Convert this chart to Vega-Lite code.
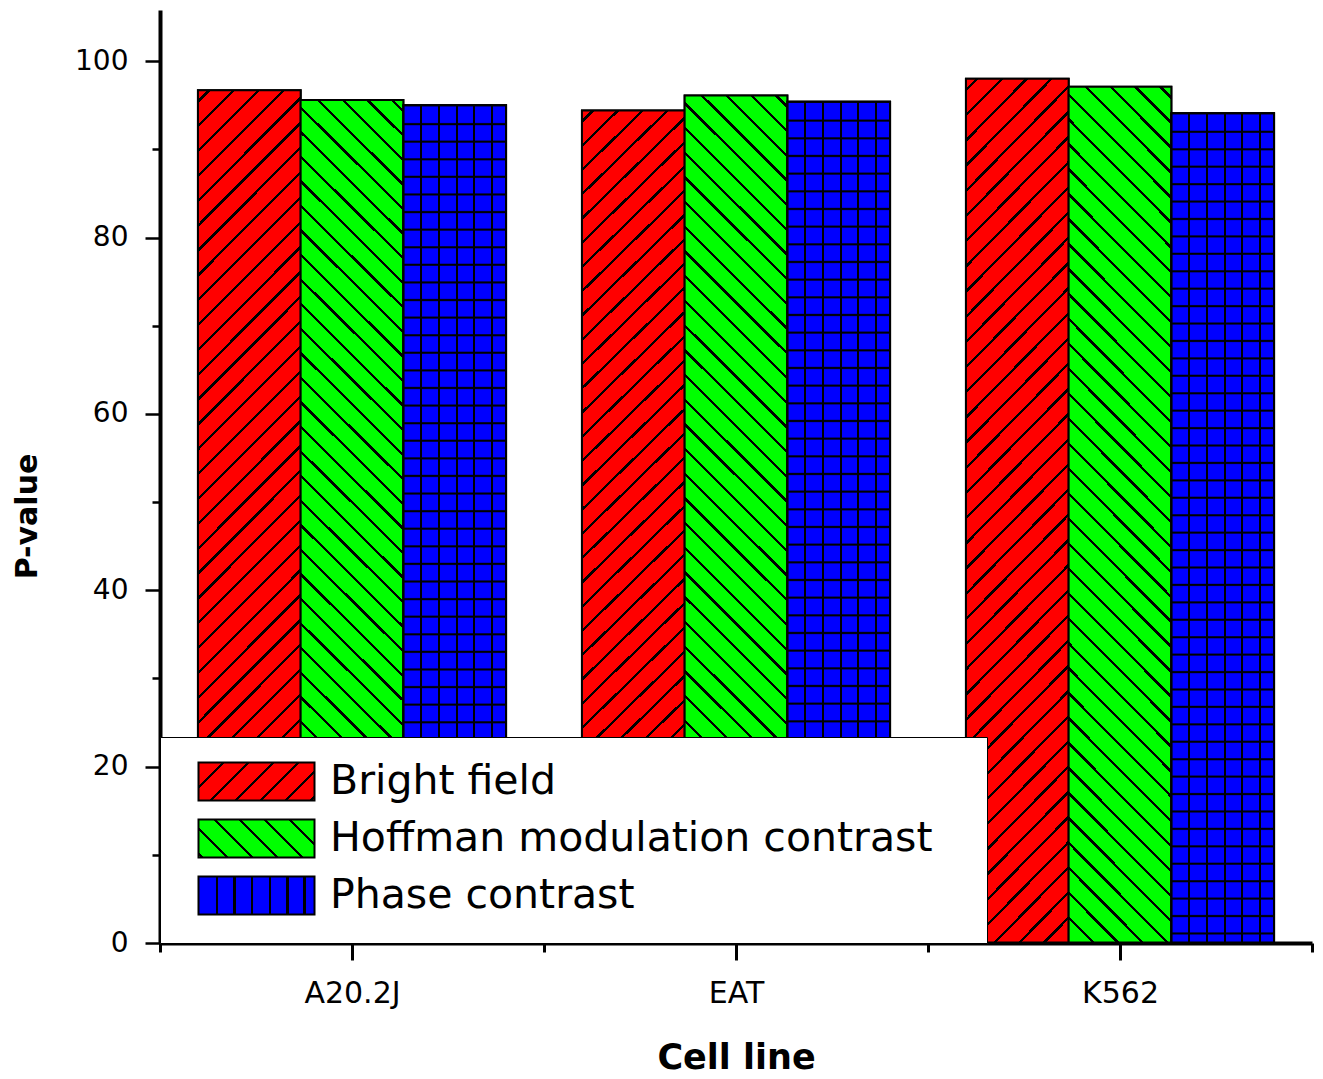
{
  "$schema": "https://vega.github.io/schema/vega-lite/v6.json",
  "autosize": {"type": "none"},
  "padding": {"left": 160, "top": 10, "right": 11, "bottom": 136},
  "width": 1152,
  "height": 933,
  "background": "white",
  "config": {"view": {"stroke": null}, "axis": {"grid": false}},
  "data": {
    "values": [
      {"cell": "A20.2J", "method": "Bright field", "value": 96.7},
      {"cell": "A20.2J", "method": "Hoffman modulation contrast", "value": 95.6},
      {"cell": "A20.2J", "method": "Phase contrast", "value": 95.0},
      {"cell": "EAT", "method": "Bright field", "value": 94.4},
      {"cell": "EAT", "method": "Hoffman modulation contrast", "value": 96.1},
      {"cell": "EAT", "method": "Phase contrast", "value": 95.4},
      {"cell": "K562", "method": "Bright field", "value": 98.0},
      {"cell": "K562", "method": "Hoffman modulation contrast", "value": 97.1},
      {"cell": "K562", "method": "Phase contrast", "value": 94.1}
    ]
  },
  "encoding": {
    "x": {
      "field": "cell", "type": "nominal",
      "scale": {"domain": ["A20.2J", "EAT", "K562"], "paddingInner": 0, "paddingOuter": 0},
      "axis": {
        "orient": "bottom", "tickBand": "extent", "tickSize": 9, "tickWidth": 3, "tickColor": "black",
        "domainWidth": 4, "domainColor": "black", "labelFont": "DejaVu Sans", "labelFontSize": 30,
        "labelColor": "black", "labelPadding": 26, "labelAngle": 0, "title": "Cell line",
        "titleFont": "DejaVu Sans", "titleFontSize": 35, "titleFontWeight": "bold", "titleColor": "black",
        "titlePadding": 32, "zindex": 1
      }
    },
    "xOffset": {
      "field": "method", "type": "nominal",
      "scale": {"domain": ["Bright field", "Hoffman modulation contrast", "Phase contrast"], "paddingInner": 0, "paddingOuter": 0.3695}
    },
    "y": {
      "field": "value", "type": "quantitative",
      "scale": {"domain": [0, 105.8], "nice": false, "zero": true},
      "axis": {
        "orient": "left", "values": [0, 20, 40, 60, 80, 100], "tickSize": 15, "tickWidth": 2.5, "tickColor": "black",
        "domainWidth": 4, "domainColor": "black", "labelFont": "DejaVu Sans", "labelFontSize": 28,
        "labelColor": "black", "labelPadding": 17, "title": "P-value", "titleFont": "DejaVu Sans",
        "titleFontSize": 30, "titleFontWeight": "bold", "titleColor": "black", "titlePadding": 32, "titleY": 506, "zindex": 1
      }
    }
  },
  "resolve": {"axis": {"x": "independent", "y": "independent"}},
  "layer": [
    {
      "mark": {"type": "bar", "stroke": "black", "strokeWidth": 2},
      "encoding": {
        "fill": {
          "field": "method", "type": "nominal",
          "scale": {
            "domain": ["Bright field", "Hoffman modulation contrast", "Phase contrast"],
            "range": [
              {"expr": "{gradient: 'linear', x1: 0, y1: 0, x2: 1.199, y2: 0.3928, stops: [{offset: 0.151, color: '#f00'}, {offset: 0.151, color: '#000'}, {offset: 0.173, color: '#000'}, {offset: 0.173, color: '#f00'}, {offset: 0.314, color: '#f00'}, {offset: 0.314, color: '#000'}, {offset: 0.336, color: '#000'}, {offset: 0.336, color: '#f00'}, {offset: 0.476, color: '#f00'}, {offset: 0.476, color: '#000'}, {offset: 0.498, color: '#000'}, {offset: 0.498, color: '#f00'}, {offset: 0.638, color: '#f00'}, {offset: 0.638, color: '#000'}, {offset: 0.66, color: '#000'}, {offset: 0.66, color: '#f00'}, {offset: 0.8, color: '#f00'}, {offset: 0.8, color: '#000'}, {offset: 0.822, color: '#000'}, {offset: 0.822, color: '#f00'}, {offset: 0.963, color: '#f00'}, {offset: 0.963, color: '#000'}, {offset: 0.985, color: '#000'}, {offset: 0.985, color: '#f00'}]}"},
              {"expr": "{gradient: 'linear', x1: 1, y1: 0, x2: -0.199, y2: 0.3928, stops: [{offset: 0.151, color: '#0f0'}, {offset: 0.151, color: '#000'}, {offset: 0.173, color: '#000'}, {offset: 0.173, color: '#0f0'}, {offset: 0.314, color: '#0f0'}, {offset: 0.314, color: '#000'}, {offset: 0.336, color: '#000'}, {offset: 0.336, color: '#0f0'}, {offset: 0.476, color: '#0f0'}, {offset: 0.476, color: '#000'}, {offset: 0.498, color: '#000'}, {offset: 0.498, color: '#0f0'}, {offset: 0.638, color: '#0f0'}, {offset: 0.638, color: '#000'}, {offset: 0.66, color: '#000'}, {offset: 0.66, color: '#0f0'}, {offset: 0.8, color: '#0f0'}, {offset: 0.8, color: '#000'}, {offset: 0.822, color: '#000'}, {offset: 0.822, color: '#0f0'}, {offset: 0.963, color: '#0f0'}, {offset: 0.963, color: '#000'}, {offset: 0.985, color: '#000'}, {offset: 0.985, color: '#0f0'}]}"},
              {"expr": "{gradient: 'linear', x1: 0, y1: 0, x2: 1, y2: 0, stops: [{offset: 0.15, color: '#00f'}, {offset: 0.15, color: '#000'}, {offset: 0.172, color: '#000'}, {offset: 0.172, color: '#00f'}, {offset: 0.3, color: '#00f'}, {offset: 0.3, color: '#000'}, {offset: 0.322, color: '#000'}, {offset: 0.322, color: '#00f'}, {offset: 0.452, color: '#00f'}, {offset: 0.452, color: '#000'}, {offset: 0.474, color: '#000'}, {offset: 0.474, color: '#00f'}, {offset: 0.604, color: '#00f'}, {offset: 0.604, color: '#000'}, {offset: 0.626, color: '#000'}, {offset: 0.626, color: '#00f'}, {offset: 0.754, color: '#00f'}, {offset: 0.754, color: '#000'}, {offset: 0.776, color: '#000'}, {offset: 0.776, color: '#00f'}, {offset: 0.905, color: '#00f'}, {offset: 0.905, color: '#000'}, {offset: 0.927, color: '#000'}, {offset: 0.927, color: '#00f'}]}"}
            ]
          },
          "legend": {
            "orient": "bottom-left", "offset": 0, "title": null, "padding": 24,
            "fillColor": "white", "strokeColor": "black",
            "symbolType": "M-3.053,-1H3.053V1H-3.053Z", "symbolSize": 1444,
            "symbolStrokeColor": "black", "symbolStrokeWidth": 2, "symbolOffset": 52,
            "labelFont": "DejaVu Sans", "labelFontSize": 41, "labelColor": "black",
            "labelOffset": 53, "labelLimit": 2000, "rowPadding": 10,
            "labelExpr": "datum.label + '\u2800'",
            "zindex": 2
          }
        }
      }
    },
    {
      "transform": [{"filter": "datum.method === 'Bright field'"}],
      "mark": {"type": "bar", "stroke": "black", "strokeWidth": 2,
        "fill": {"gradient": "linear", "x1": 0, "y1": 0, "x2": 0.1335, "y2": 1.1047, "stops": [
          {"offset": 0.01, "color": "#f00"}, {"offset": 0.01, "color": "#000"}, {"offset": 0.0135, "color": "#000"}, {"offset": 0.0135, "color": "#f00"},
          {"offset": 0.036, "color": "#f00"}, {"offset": 0.036, "color": "#000"}, {"offset": 0.0395, "color": "#000"}, {"offset": 0.0395, "color": "#f00"},
          {"offset": 0.062, "color": "#f00"}, {"offset": 0.062, "color": "#000"}, {"offset": 0.0655, "color": "#000"}, {"offset": 0.0655, "color": "#f00"},
          {"offset": 0.088, "color": "#f00"}, {"offset": 0.088, "color": "#000"}, {"offset": 0.0915, "color": "#000"}, {"offset": 0.0915, "color": "#f00"},
          {"offset": 0.114, "color": "#f00"}, {"offset": 0.114, "color": "#000"}, {"offset": 0.1175, "color": "#000"}, {"offset": 0.1175, "color": "#f00"},
          {"offset": 0.14, "color": "#f00"}, {"offset": 0.14, "color": "#000"}, {"offset": 0.1435, "color": "#000"}, {"offset": 0.1435, "color": "#f00"},
          {"offset": 0.166, "color": "#f00"}, {"offset": 0.166, "color": "#000"}, {"offset": 0.1695, "color": "#000"}, {"offset": 0.1695, "color": "#f00"},
          {"offset": 0.192, "color": "#f00"}, {"offset": 0.192, "color": "#000"}, {"offset": 0.1955, "color": "#000"}, {"offset": 0.1955, "color": "#f00"},
          {"offset": 0.218, "color": "#f00"}, {"offset": 0.218, "color": "#000"}, {"offset": 0.2215, "color": "#000"}, {"offset": 0.2215, "color": "#f00"},
          {"offset": 0.244, "color": "#f00"}, {"offset": 0.244, "color": "#000"}, {"offset": 0.2475, "color": "#000"}, {"offset": 0.2475, "color": "#f00"},
          {"offset": 0.27, "color": "#f00"}, {"offset": 0.27, "color": "#000"}, {"offset": 0.2735, "color": "#000"}, {"offset": 0.2735, "color": "#f00"},
          {"offset": 0.296, "color": "#f00"}, {"offset": 0.296, "color": "#000"}, {"offset": 0.2995, "color": "#000"}, {"offset": 0.2995, "color": "#f00"},
          {"offset": 0.322, "color": "#f00"}, {"offset": 0.322, "color": "#000"}, {"offset": 0.3255, "color": "#000"}, {"offset": 0.3255, "color": "#f00"},
          {"offset": 0.348, "color": "#f00"}, {"offset": 0.348, "color": "#000"}, {"offset": 0.3515, "color": "#000"}, {"offset": 0.3515, "color": "#f00"},
          {"offset": 0.374, "color": "#f00"}, {"offset": 0.374, "color": "#000"}, {"offset": 0.3775, "color": "#000"}, {"offset": 0.3775, "color": "#f00"},
          {"offset": 0.4, "color": "#f00"}, {"offset": 0.4, "color": "#000"}, {"offset": 0.4035, "color": "#000"}, {"offset": 0.4035, "color": "#f00"},
          {"offset": 0.426, "color": "#f00"}, {"offset": 0.426, "color": "#000"}, {"offset": 0.4295, "color": "#000"}, {"offset": 0.4295, "color": "#f00"},
          {"offset": 0.452, "color": "#f00"}, {"offset": 0.452, "color": "#000"}, {"offset": 0.4555, "color": "#000"}, {"offset": 0.4555, "color": "#f00"},
          {"offset": 0.478, "color": "#f00"}, {"offset": 0.478, "color": "#000"}, {"offset": 0.4815, "color": "#000"}, {"offset": 0.4815, "color": "#f00"},
          {"offset": 0.504, "color": "#f00"}, {"offset": 0.504, "color": "#000"}, {"offset": 0.5075, "color": "#000"}, {"offset": 0.5075, "color": "#f00"},
          {"offset": 0.53, "color": "#f00"}, {"offset": 0.53, "color": "#000"}, {"offset": 0.5335, "color": "#000"}, {"offset": 0.5335, "color": "#f00"},
          {"offset": 0.556, "color": "#f00"}, {"offset": 0.556, "color": "#000"}, {"offset": 0.5595, "color": "#000"}, {"offset": 0.5595, "color": "#f00"},
          {"offset": 0.582, "color": "#f00"}, {"offset": 0.582, "color": "#000"}, {"offset": 0.5855, "color": "#000"}, {"offset": 0.5855, "color": "#f00"},
          {"offset": 0.608, "color": "#f00"}, {"offset": 0.608, "color": "#000"}, {"offset": 0.6115, "color": "#000"}, {"offset": 0.6115, "color": "#f00"},
          {"offset": 0.634, "color": "#f00"}, {"offset": 0.634, "color": "#000"}, {"offset": 0.6375, "color": "#000"}, {"offset": 0.6375, "color": "#f00"},
          {"offset": 0.66, "color": "#f00"}, {"offset": 0.66, "color": "#000"}, {"offset": 0.6635, "color": "#000"}, {"offset": 0.6635, "color": "#f00"},
          {"offset": 0.686, "color": "#f00"}, {"offset": 0.686, "color": "#000"}, {"offset": 0.6895, "color": "#000"}, {"offset": 0.6895, "color": "#f00"},
          {"offset": 0.712, "color": "#f00"}, {"offset": 0.712, "color": "#000"}, {"offset": 0.7155, "color": "#000"}, {"offset": 0.7155, "color": "#f00"},
          {"offset": 0.738, "color": "#f00"}, {"offset": 0.738, "color": "#000"}, {"offset": 0.7415, "color": "#000"}, {"offset": 0.7415, "color": "#f00"},
          {"offset": 0.764, "color": "#f00"}, {"offset": 0.764, "color": "#000"}, {"offset": 0.7675, "color": "#000"}, {"offset": 0.7675, "color": "#f00"},
          {"offset": 0.79, "color": "#f00"}, {"offset": 0.79, "color": "#000"}, {"offset": 0.7935, "color": "#000"}, {"offset": 0.7935, "color": "#f00"},
          {"offset": 0.816, "color": "#f00"}, {"offset": 0.816, "color": "#000"}, {"offset": 0.8195, "color": "#000"}, {"offset": 0.8195, "color": "#f00"},
          {"offset": 0.842, "color": "#f00"}, {"offset": 0.842, "color": "#000"}, {"offset": 0.8455, "color": "#000"}, {"offset": 0.8455, "color": "#f00"},
          {"offset": 0.868, "color": "#f00"}, {"offset": 0.868, "color": "#000"}, {"offset": 0.8715, "color": "#000"}, {"offset": 0.8715, "color": "#f00"},
          {"offset": 0.894, "color": "#f00"}, {"offset": 0.894, "color": "#000"}, {"offset": 0.8975, "color": "#000"}, {"offset": 0.8975, "color": "#f00"},
          {"offset": 0.92, "color": "#f00"}, {"offset": 0.92, "color": "#000"}, {"offset": 0.9235, "color": "#000"}, {"offset": 0.9235, "color": "#f00"},
          {"offset": 0.946, "color": "#f00"}, {"offset": 0.946, "color": "#000"}, {"offset": 0.9495, "color": "#000"}, {"offset": 0.9495, "color": "#f00"},
          {"offset": 0.972, "color": "#f00"}, {"offset": 0.972, "color": "#000"}, {"offset": 0.9755, "color": "#000"}, {"offset": 0.9755, "color": "#f00"}
        ]}
      },
      "encoding": {
        "x": {
          "field": "cell", "type": "nominal",
          "scale": {"domain": ["A20.2J", "EAT", "K562"], "paddingInner": 0, "paddingOuter": 0},
          "axis": {"orient": "bottom", "labels": false, "domain": false, "title": null, "tickSize": 17, "tickWidth": 3, "tickColor": "black", "zindex": 1}
        },
        "y": {
          "field": "value", "type": "quantitative",
          "scale": {"domain": [0, 105.8], "nice": false, "zero": true},
          "axis": {"orient": "left", "values": [10, 30, 50, 70, 90], "labels": false, "domain": false, "title": null, "tickSize": 8, "tickWidth": 2.5, "tickColor": "black", "zindex": 1}
        }
      }
    },
    {
      "transform": [{"filter": "datum.method === 'Hoffman modulation contrast'"}],
      "mark": {"type": "bar", "stroke": "black", "strokeWidth": 2,
        "fill": {"gradient": "linear", "x1": 1, "y1": 0, "x2": 0.8665, "y2": 1.1047, "stops": [
          {"offset": 0.01, "color": "#0f0"}, {"offset": 0.01, "color": "#000"}, {"offset": 0.0135, "color": "#000"}, {"offset": 0.0135, "color": "#0f0"},
          {"offset": 0.036, "color": "#0f0"}, {"offset": 0.036, "color": "#000"}, {"offset": 0.0395, "color": "#000"}, {"offset": 0.0395, "color": "#0f0"},
          {"offset": 0.062, "color": "#0f0"}, {"offset": 0.062, "color": "#000"}, {"offset": 0.0655, "color": "#000"}, {"offset": 0.0655, "color": "#0f0"},
          {"offset": 0.088, "color": "#0f0"}, {"offset": 0.088, "color": "#000"}, {"offset": 0.0915, "color": "#000"}, {"offset": 0.0915, "color": "#0f0"},
          {"offset": 0.114, "color": "#0f0"}, {"offset": 0.114, "color": "#000"}, {"offset": 0.1175, "color": "#000"}, {"offset": 0.1175, "color": "#0f0"},
          {"offset": 0.14, "color": "#0f0"}, {"offset": 0.14, "color": "#000"}, {"offset": 0.1435, "color": "#000"}, {"offset": 0.1435, "color": "#0f0"},
          {"offset": 0.166, "color": "#0f0"}, {"offset": 0.166, "color": "#000"}, {"offset": 0.1695, "color": "#000"}, {"offset": 0.1695, "color": "#0f0"},
          {"offset": 0.192, "color": "#0f0"}, {"offset": 0.192, "color": "#000"}, {"offset": 0.1955, "color": "#000"}, {"offset": 0.1955, "color": "#0f0"},
          {"offset": 0.218, "color": "#0f0"}, {"offset": 0.218, "color": "#000"}, {"offset": 0.2215, "color": "#000"}, {"offset": 0.2215, "color": "#0f0"},
          {"offset": 0.244, "color": "#0f0"}, {"offset": 0.244, "color": "#000"}, {"offset": 0.2475, "color": "#000"}, {"offset": 0.2475, "color": "#0f0"},
          {"offset": 0.27, "color": "#0f0"}, {"offset": 0.27, "color": "#000"}, {"offset": 0.2735, "color": "#000"}, {"offset": 0.2735, "color": "#0f0"},
          {"offset": 0.296, "color": "#0f0"}, {"offset": 0.296, "color": "#000"}, {"offset": 0.2995, "color": "#000"}, {"offset": 0.2995, "color": "#0f0"},
          {"offset": 0.322, "color": "#0f0"}, {"offset": 0.322, "color": "#000"}, {"offset": 0.3255, "color": "#000"}, {"offset": 0.3255, "color": "#0f0"},
          {"offset": 0.348, "color": "#0f0"}, {"offset": 0.348, "color": "#000"}, {"offset": 0.3515, "color": "#000"}, {"offset": 0.3515, "color": "#0f0"},
          {"offset": 0.374, "color": "#0f0"}, {"offset": 0.374, "color": "#000"}, {"offset": 0.3775, "color": "#000"}, {"offset": 0.3775, "color": "#0f0"},
          {"offset": 0.4, "color": "#0f0"}, {"offset": 0.4, "color": "#000"}, {"offset": 0.4035, "color": "#000"}, {"offset": 0.4035, "color": "#0f0"},
          {"offset": 0.426, "color": "#0f0"}, {"offset": 0.426, "color": "#000"}, {"offset": 0.4295, "color": "#000"}, {"offset": 0.4295, "color": "#0f0"},
          {"offset": 0.452, "color": "#0f0"}, {"offset": 0.452, "color": "#000"}, {"offset": 0.4555, "color": "#000"}, {"offset": 0.4555, "color": "#0f0"},
          {"offset": 0.478, "color": "#0f0"}, {"offset": 0.478, "color": "#000"}, {"offset": 0.4815, "color": "#000"}, {"offset": 0.4815, "color": "#0f0"},
          {"offset": 0.504, "color": "#0f0"}, {"offset": 0.504, "color": "#000"}, {"offset": 0.5075, "color": "#000"}, {"offset": 0.5075, "color": "#0f0"},
          {"offset": 0.53, "color": "#0f0"}, {"offset": 0.53, "color": "#000"}, {"offset": 0.5335, "color": "#000"}, {"offset": 0.5335, "color": "#0f0"},
          {"offset": 0.556, "color": "#0f0"}, {"offset": 0.556, "color": "#000"}, {"offset": 0.5595, "color": "#000"}, {"offset": 0.5595, "color": "#0f0"},
          {"offset": 0.582, "color": "#0f0"}, {"offset": 0.582, "color": "#000"}, {"offset": 0.5855, "color": "#000"}, {"offset": 0.5855, "color": "#0f0"},
          {"offset": 0.608, "color": "#0f0"}, {"offset": 0.608, "color": "#000"}, {"offset": 0.6115, "color": "#000"}, {"offset": 0.6115, "color": "#0f0"},
          {"offset": 0.634, "color": "#0f0"}, {"offset": 0.634, "color": "#000"}, {"offset": 0.6375, "color": "#000"}, {"offset": 0.6375, "color": "#0f0"},
          {"offset": 0.66, "color": "#0f0"}, {"offset": 0.66, "color": "#000"}, {"offset": 0.6635, "color": "#000"}, {"offset": 0.6635, "color": "#0f0"},
          {"offset": 0.686, "color": "#0f0"}, {"offset": 0.686, "color": "#000"}, {"offset": 0.6895, "color": "#000"}, {"offset": 0.6895, "color": "#0f0"},
          {"offset": 0.712, "color": "#0f0"}, {"offset": 0.712, "color": "#000"}, {"offset": 0.7155, "color": "#000"}, {"offset": 0.7155, "color": "#0f0"},
          {"offset": 0.738, "color": "#0f0"}, {"offset": 0.738, "color": "#000"}, {"offset": 0.7415, "color": "#000"}, {"offset": 0.7415, "color": "#0f0"},
          {"offset": 0.764, "color": "#0f0"}, {"offset": 0.764, "color": "#000"}, {"offset": 0.7675, "color": "#000"}, {"offset": 0.7675, "color": "#0f0"},
          {"offset": 0.79, "color": "#0f0"}, {"offset": 0.79, "color": "#000"}, {"offset": 0.7935, "color": "#000"}, {"offset": 0.7935, "color": "#0f0"},
          {"offset": 0.816, "color": "#0f0"}, {"offset": 0.816, "color": "#000"}, {"offset": 0.8195, "color": "#000"}, {"offset": 0.8195, "color": "#0f0"},
          {"offset": 0.842, "color": "#0f0"}, {"offset": 0.842, "color": "#000"}, {"offset": 0.8455, "color": "#000"}, {"offset": 0.8455, "color": "#0f0"},
          {"offset": 0.868, "color": "#0f0"}, {"offset": 0.868, "color": "#000"}, {"offset": 0.8715, "color": "#000"}, {"offset": 0.8715, "color": "#0f0"},
          {"offset": 0.894, "color": "#0f0"}, {"offset": 0.894, "color": "#000"}, {"offset": 0.8975, "color": "#000"}, {"offset": 0.8975, "color": "#0f0"},
          {"offset": 0.92, "color": "#0f0"}, {"offset": 0.92, "color": "#000"}, {"offset": 0.9235, "color": "#000"}, {"offset": 0.9235, "color": "#0f0"},
          {"offset": 0.946, "color": "#0f0"}, {"offset": 0.946, "color": "#000"}, {"offset": 0.9495, "color": "#000"}, {"offset": 0.9495, "color": "#0f0"},
          {"offset": 0.972, "color": "#0f0"}, {"offset": 0.972, "color": "#000"}, {"offset": 0.9755, "color": "#000"}, {"offset": 0.9755, "color": "#0f0"}
        ]}
      },
      "encoding": {
        "x": {"field": "cell", "type": "nominal", "scale": {"domain": ["A20.2J", "EAT", "K562"], "paddingInner": 0, "paddingOuter": 0}, "axis": null},
        "y": {"field": "value", "type": "quantitative", "scale": {"domain": [0, 105.8], "nice": false, "zero": true}, "axis": null}
      }
    },
    {
      "transform": [{"filter": "datum.method === 'Phase contrast'"}],
      "mark": {"type": "bar", "stroke": "black", "strokeWidth": 2,
        "fill": {"gradient": "linear", "x1": 0, "y1": 0, "x2": 1, "y2": 0, "stops": [
          {"offset": 0.158, "color": "#00f"}, {"offset": 0.158, "color": "#000"}, {"offset": 0.182, "color": "#000"}, {"offset": 0.182, "color": "#00f"},
          {"offset": 0.333, "color": "#00f"}, {"offset": 0.333, "color": "#000"}, {"offset": 0.357, "color": "#000"}, {"offset": 0.357, "color": "#00f"},
          {"offset": 0.508, "color": "#00f"}, {"offset": 0.508, "color": "#000"}, {"offset": 0.532, "color": "#000"}, {"offset": 0.532, "color": "#00f"},
          {"offset": 0.678, "color": "#00f"}, {"offset": 0.678, "color": "#000"}, {"offset": 0.702, "color": "#000"}, {"offset": 0.702, "color": "#00f"},
          {"offset": 0.853, "color": "#00f"}, {"offset": 0.853, "color": "#000"}, {"offset": 0.877, "color": "#000"}, {"offset": 0.877, "color": "#00f"}
        ]}
      },
      "encoding": {
        "x": {"field": "cell", "type": "nominal", "scale": {"domain": ["A20.2J", "EAT", "K562"], "paddingInner": 0, "paddingOuter": 0}, "axis": null},
        "y": {"field": "value", "type": "quantitative", "scale": {"domain": [0, 105.8], "nice": false, "zero": true}, "axis": null}
      }
    },
    {
      "transform": [{"filter": "datum.method === 'Phase contrast'"}],
      "mark": {"type": "bar", "stroke": "black", "strokeWidth": 2,
        "fill": {"gradient": "linear", "x1": 0, "y1": 0, "x2": 0, "y2": 1, "stops": [
          {"offset": 0.0205, "color": "rgba(0,0,0,0)"}, {"offset": 0.022, "color": "#000"}, {"offset": 0.023, "color": "#000"}, {"offset": 0.0245, "color": "rgba(0,0,0,0)"},
          {"offset": 0.0415, "color": "rgba(0,0,0,0)"}, {"offset": 0.043, "color": "#000"}, {"offset": 0.044, "color": "#000"}, {"offset": 0.0455, "color": "rgba(0,0,0,0)"},
          {"offset": 0.0625, "color": "rgba(0,0,0,0)"}, {"offset": 0.064, "color": "#000"}, {"offset": 0.065, "color": "#000"}, {"offset": 0.0665, "color": "rgba(0,0,0,0)"},
          {"offset": 0.0835, "color": "rgba(0,0,0,0)"}, {"offset": 0.085, "color": "#000"}, {"offset": 0.086, "color": "#000"}, {"offset": 0.0875, "color": "rgba(0,0,0,0)"},
          {"offset": 0.1045, "color": "rgba(0,0,0,0)"}, {"offset": 0.106, "color": "#000"}, {"offset": 0.107, "color": "#000"}, {"offset": 0.1085, "color": "rgba(0,0,0,0)"},
          {"offset": 0.1255, "color": "rgba(0,0,0,0)"}, {"offset": 0.127, "color": "#000"}, {"offset": 0.128, "color": "#000"}, {"offset": 0.1295, "color": "rgba(0,0,0,0)"},
          {"offset": 0.1465, "color": "rgba(0,0,0,0)"}, {"offset": 0.148, "color": "#000"}, {"offset": 0.149, "color": "#000"}, {"offset": 0.1505, "color": "rgba(0,0,0,0)"},
          {"offset": 0.1675, "color": "rgba(0,0,0,0)"}, {"offset": 0.169, "color": "#000"}, {"offset": 0.17, "color": "#000"}, {"offset": 0.1715, "color": "rgba(0,0,0,0)"},
          {"offset": 0.1885, "color": "rgba(0,0,0,0)"}, {"offset": 0.19, "color": "#000"}, {"offset": 0.191, "color": "#000"}, {"offset": 0.1925, "color": "rgba(0,0,0,0)"},
          {"offset": 0.2095, "color": "rgba(0,0,0,0)"}, {"offset": 0.211, "color": "#000"}, {"offset": 0.212, "color": "#000"}, {"offset": 0.2135, "color": "rgba(0,0,0,0)"},
          {"offset": 0.2305, "color": "rgba(0,0,0,0)"}, {"offset": 0.232, "color": "#000"}, {"offset": 0.233, "color": "#000"}, {"offset": 0.2345, "color": "rgba(0,0,0,0)"},
          {"offset": 0.2515, "color": "rgba(0,0,0,0)"}, {"offset": 0.253, "color": "#000"}, {"offset": 0.254, "color": "#000"}, {"offset": 0.2555, "color": "rgba(0,0,0,0)"},
          {"offset": 0.2725, "color": "rgba(0,0,0,0)"}, {"offset": 0.274, "color": "#000"}, {"offset": 0.275, "color": "#000"}, {"offset": 0.2765, "color": "rgba(0,0,0,0)"},
          {"offset": 0.2935, "color": "rgba(0,0,0,0)"}, {"offset": 0.295, "color": "#000"}, {"offset": 0.296, "color": "#000"}, {"offset": 0.2975, "color": "rgba(0,0,0,0)"},
          {"offset": 0.3145, "color": "rgba(0,0,0,0)"}, {"offset": 0.316, "color": "#000"}, {"offset": 0.317, "color": "#000"}, {"offset": 0.3185, "color": "rgba(0,0,0,0)"},
          {"offset": 0.3355, "color": "rgba(0,0,0,0)"}, {"offset": 0.337, "color": "#000"}, {"offset": 0.338, "color": "#000"}, {"offset": 0.3395, "color": "rgba(0,0,0,0)"},
          {"offset": 0.3565, "color": "rgba(0,0,0,0)"}, {"offset": 0.358, "color": "#000"}, {"offset": 0.359, "color": "#000"}, {"offset": 0.3605, "color": "rgba(0,0,0,0)"},
          {"offset": 0.3775, "color": "rgba(0,0,0,0)"}, {"offset": 0.379, "color": "#000"}, {"offset": 0.38, "color": "#000"}, {"offset": 0.3815, "color": "rgba(0,0,0,0)"},
          {"offset": 0.3985, "color": "rgba(0,0,0,0)"}, {"offset": 0.4, "color": "#000"}, {"offset": 0.401, "color": "#000"}, {"offset": 0.4025, "color": "rgba(0,0,0,0)"},
          {"offset": 0.4195, "color": "rgba(0,0,0,0)"}, {"offset": 0.421, "color": "#000"}, {"offset": 0.422, "color": "#000"}, {"offset": 0.4235, "color": "rgba(0,0,0,0)"},
          {"offset": 0.4405, "color": "rgba(0,0,0,0)"}, {"offset": 0.442, "color": "#000"}, {"offset": 0.443, "color": "#000"}, {"offset": 0.4445, "color": "rgba(0,0,0,0)"},
          {"offset": 0.4615, "color": "rgba(0,0,0,0)"}, {"offset": 0.463, "color": "#000"}, {"offset": 0.464, "color": "#000"}, {"offset": 0.4655, "color": "rgba(0,0,0,0)"},
          {"offset": 0.4825, "color": "rgba(0,0,0,0)"}, {"offset": 0.484, "color": "#000"}, {"offset": 0.485, "color": "#000"}, {"offset": 0.4865, "color": "rgba(0,0,0,0)"},
          {"offset": 0.5035, "color": "rgba(0,0,0,0)"}, {"offset": 0.505, "color": "#000"}, {"offset": 0.506, "color": "#000"}, {"offset": 0.5075, "color": "rgba(0,0,0,0)"},
          {"offset": 0.5245, "color": "rgba(0,0,0,0)"}, {"offset": 0.526, "color": "#000"}, {"offset": 0.527, "color": "#000"}, {"offset": 0.5285, "color": "rgba(0,0,0,0)"},
          {"offset": 0.5455, "color": "rgba(0,0,0,0)"}, {"offset": 0.547, "color": "#000"}, {"offset": 0.548, "color": "#000"}, {"offset": 0.5495, "color": "rgba(0,0,0,0)"},
          {"offset": 0.5665, "color": "rgba(0,0,0,0)"}, {"offset": 0.568, "color": "#000"}, {"offset": 0.569, "color": "#000"}, {"offset": 0.5705, "color": "rgba(0,0,0,0)"},
          {"offset": 0.5875, "color": "rgba(0,0,0,0)"}, {"offset": 0.589, "color": "#000"}, {"offset": 0.59, "color": "#000"}, {"offset": 0.5915, "color": "rgba(0,0,0,0)"},
          {"offset": 0.6085, "color": "rgba(0,0,0,0)"}, {"offset": 0.61, "color": "#000"}, {"offset": 0.611, "color": "#000"}, {"offset": 0.6125, "color": "rgba(0,0,0,0)"},
          {"offset": 0.6295, "color": "rgba(0,0,0,0)"}, {"offset": 0.631, "color": "#000"}, {"offset": 0.632, "color": "#000"}, {"offset": 0.6335, "color": "rgba(0,0,0,0)"},
          {"offset": 0.6505, "color": "rgba(0,0,0,0)"}, {"offset": 0.652, "color": "#000"}, {"offset": 0.653, "color": "#000"}, {"offset": 0.6545, "color": "rgba(0,0,0,0)"},
          {"offset": 0.6715, "color": "rgba(0,0,0,0)"}, {"offset": 0.673, "color": "#000"}, {"offset": 0.674, "color": "#000"}, {"offset": 0.6755, "color": "rgba(0,0,0,0)"},
          {"offset": 0.6925, "color": "rgba(0,0,0,0)"}, {"offset": 0.694, "color": "#000"}, {"offset": 0.695, "color": "#000"}, {"offset": 0.6965, "color": "rgba(0,0,0,0)"},
          {"offset": 0.7135, "color": "rgba(0,0,0,0)"}, {"offset": 0.715, "color": "#000"}, {"offset": 0.716, "color": "#000"}, {"offset": 0.7175, "color": "rgba(0,0,0,0)"},
          {"offset": 0.7345, "color": "rgba(0,0,0,0)"}, {"offset": 0.736, "color": "#000"}, {"offset": 0.737, "color": "#000"}, {"offset": 0.7385, "color": "rgba(0,0,0,0)"},
          {"offset": 0.7555, "color": "rgba(0,0,0,0)"}, {"offset": 0.757, "color": "#000"}, {"offset": 0.758, "color": "#000"}, {"offset": 0.7595, "color": "rgba(0,0,0,0)"},
          {"offset": 0.7765, "color": "rgba(0,0,0,0)"}, {"offset": 0.778, "color": "#000"}, {"offset": 0.779, "color": "#000"}, {"offset": 0.7805, "color": "rgba(0,0,0,0)"},
          {"offset": 0.7975, "color": "rgba(0,0,0,0)"}, {"offset": 0.799, "color": "#000"}, {"offset": 0.8, "color": "#000"}, {"offset": 0.8015, "color": "rgba(0,0,0,0)"},
          {"offset": 0.8185, "color": "rgba(0,0,0,0)"}, {"offset": 0.82, "color": "#000"}, {"offset": 0.821, "color": "#000"}, {"offset": 0.8225, "color": "rgba(0,0,0,0)"},
          {"offset": 0.8395, "color": "rgba(0,0,0,0)"}, {"offset": 0.841, "color": "#000"}, {"offset": 0.842, "color": "#000"}, {"offset": 0.8435, "color": "rgba(0,0,0,0)"},
          {"offset": 0.8605, "color": "rgba(0,0,0,0)"}, {"offset": 0.862, "color": "#000"}, {"offset": 0.863, "color": "#000"}, {"offset": 0.8645, "color": "rgba(0,0,0,0)"},
          {"offset": 0.8815, "color": "rgba(0,0,0,0)"}, {"offset": 0.883, "color": "#000"}, {"offset": 0.884, "color": "#000"}, {"offset": 0.8855, "color": "rgba(0,0,0,0)"},
          {"offset": 0.9025, "color": "rgba(0,0,0,0)"}, {"offset": 0.904, "color": "#000"}, {"offset": 0.905, "color": "#000"}, {"offset": 0.9065, "color": "rgba(0,0,0,0)"},
          {"offset": 0.9235, "color": "rgba(0,0,0,0)"}, {"offset": 0.925, "color": "#000"}, {"offset": 0.926, "color": "#000"}, {"offset": 0.9275, "color": "rgba(0,0,0,0)"},
          {"offset": 0.9445, "color": "rgba(0,0,0,0)"}, {"offset": 0.946, "color": "#000"}, {"offset": 0.947, "color": "#000"}, {"offset": 0.9485, "color": "rgba(0,0,0,0)"},
          {"offset": 0.9655, "color": "rgba(0,0,0,0)"}, {"offset": 0.967, "color": "#000"}, {"offset": 0.968, "color": "#000"}, {"offset": 0.9695, "color": "rgba(0,0,0,0)"},
          {"offset": 0.9865, "color": "rgba(0,0,0,0)"}, {"offset": 0.988, "color": "#000"}, {"offset": 0.989, "color": "#000"}, {"offset": 0.9905, "color": "rgba(0,0,0,0)"}
        ]}
      },
      "encoding": {
        "x": {"field": "cell", "type": "nominal", "scale": {"domain": ["A20.2J", "EAT", "K562"], "paddingInner": 0, "paddingOuter": 0}, "axis": null},
        "y": {"field": "value", "type": "quantitative", "scale": {"domain": [0, 105.8], "nice": false, "zero": true}, "axis": null}
      }
    }
  ]
}
